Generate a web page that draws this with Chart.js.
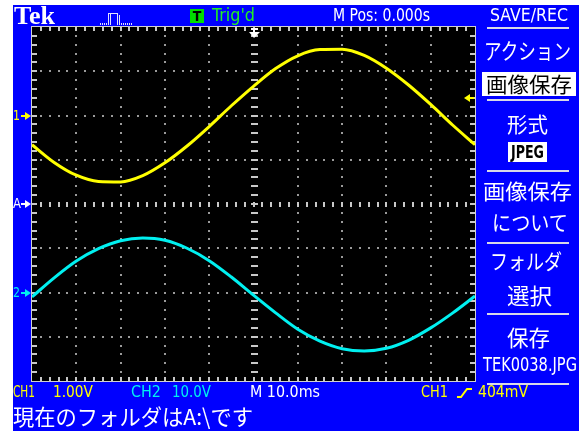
<!DOCTYPE html>
<html>
<head>
<meta charset="utf-8">
<script src="https://cdn.jsdelivr.net/npm/chart.js@4/dist/chart.umd.min.js"></script>
<style>
  html, body { margin: 0; padding: 0; background: #fff; }
  #wrap { position: relative; width: 579px; height: 431px; overflow: hidden; }
  #scope { position: absolute; left: 0; top: 0; }
  .t { position: absolute; white-space: nowrap; transform-origin: 0 0; }
</style>
</head>
<body>
<div id="wrap"><canvas id="scope" width="579" height="431"></canvas></div>
<script>
// Acquisition record: 10 divisions x 10.0 ms/div, trigger at 0 s
const timeMs = [-50, -45, -40, -35, -30, -25, -20, -15, -10, -5, 0, 5, 10, 15, 20, 25, 30, 35, 40, 45, 50];
// CH1 (1.00 V/div), volts
const ch1Volts = [-0.66, -1.06, -1.35, -1.49, -1.50, -1.36, -1.07, -0.69, -0.25, 0.22, 0.66, 1.06, 1.35, 1.49, 1.50, 1.36, 1.07, 0.69, 0.25, -0.22, -0.66];
// CH2 (10.0 V/div), volts
const ch2Volts = [-1.0, 3.3, 7.1, 9.9, 11.7, 12.3, 11.8, 10.0, 7.2, 3.5, -0.6, -4.6, -8.3, -11.0, -12.7, -13.2, -12.6, -10.8, -8.0, -4.6, -0.8];

// Vertical settings and positions (divisions from screen centre)
const ch1VoltsPerDiv = 1.0, ch1PosDiv = 2;
const ch2VoltsPerDiv = 10.0, ch2PosDiv = -2;
const triggerLevelV = 0.404;

const NARROW = "'Liberation Sans Narrow','DejaVu Sans Condensed','Liberation Sans',sans-serif";
const CJK = "'Noto Sans CJK JP','Noto Sans CJK SC',sans-serif";
const YELLOW = '#ffff00', CYAN = '#00f0f0', BLUE = '#0000ff';

const pts = (ys) => timeMs.map((t, i) => ({ x: t, y: ys[i] }));

function tri(ctx, a, b, c, color) {
  ctx.fillStyle = color;
  ctx.beginPath(); ctx.moveTo(a[0], a[1]); ctx.lineTo(b[0], b[1]); ctx.lineTo(c[0], c[1]); ctx.closePath(); ctx.fill();
}

const scopeFrame = {
  id: 'scopeFrame',
  beforeDraw(chart) {
    const { ctx, chartArea: a } = chart;
    ctx.save();
    ctx.fillStyle = '#fff'; ctx.fillRect(0, 0, chart.width, chart.height);
    ctx.fillStyle = BLUE; ctx.fillRect(13, 5, 566, 426);
    ctx.fillStyle = '#000'; ctx.fillRect(a.left, a.top, a.right - a.left, a.bottom - a.top);
    ctx.restore();
  },
  beforeDatasetsDraw(chart) {
    const { ctx, chartArea: a, scales } = chart;
    const xs = scales.x, ds = scales.div;
    const X = (d) => Math.round(xs.getPixelForValue(-50 + d * 10));
    const Y = (d) => Math.round(ds.getPixelForValue(4 - d));
    ctx.save();
    // dotted graticule lines
    ctx.fillStyle = '#9a9a9a';
    for (let i = 1; i < 10; i++) {
      if (i === 5) continue;
      for (let k = 1; k < 40; k++) ctx.fillRect(X(i) - 1, Y(k / 5) - 1, 2, 2);
    }
    for (let j = 1; j < 8; j++) {
      if (j === 4) continue;
      for (let k = 1; k < 50; k++) ctx.fillRect(X(k / 5) - 1, Y(j) - 1, 2, 2);
    }
    // centre axes with minor ticks
    ctx.fillStyle = '#c8c8c8';
    for (let k = 1; k < 50; k++) ctx.fillRect(X(k / 5) - 1, Y(4) - 2, 2, 5);
    for (let k = 1; k < 40; k++) ctx.fillRect(X(5) - 3, Y(k / 5) - 1, 7, 2);
    // edge ticks
    for (let k = 1; k < 50; k++) {
      ctx.fillRect(X(k / 5) - 1, a.top, 2, 4);
      ctx.fillRect(X(k / 5) - 1, a.bottom - 4, 2, 4);
    }
    for (let k = 1; k < 40; k++) {
      ctx.fillRect(a.left, Y(k / 5) - 1, 5, 2);
      ctx.fillRect(a.right - 5, Y(k / 5) - 1, 5, 2);
    }
    // border
    ctx.strokeStyle = '#d0d0d0'; ctx.lineWidth = 1;
    ctx.strokeRect(a.left - 0.5, a.top - 0.5, a.right - a.left + 1, a.bottom - a.top + 1);
    ctx.restore();
  },
  afterDatasetsDraw(chart) {
    const { ctx, chartArea: a, scales } = chart;
    ctx.save();
    // trigger position marker
    const tx = Math.round(scales.x.getPixelForValue(0));
    ctx.fillStyle = '#fff';
    ctx.fillRect(tx - 3, a.top + 1, 7, 2);
    ctx.fillRect(tx - 1, a.top + 1, 2, 5);
    tri(ctx, [tx - 5, a.top + 5], [tx + 6, a.top + 5], [tx, a.top + 11], '#fff');
    // trigger level marker
    const ty = Math.round(scales.y1.getPixelForValue(triggerLevelV));
    tri(ctx, [a.right - 11, ty], [a.right - 5, ty - 4], [a.right - 5, ty + 4], YELLOW);
    ctx.fillStyle = YELLOW; ctx.fillRect(a.right - 6, ty - 1, 5, 2);
    // channel ground markers
    const marks = [
      [scales.y1.getPixelForValue(0), YELLOW],
      [scales.div.getPixelForValue(0), '#fff'],
      [scales.y2.getPixelForValue(0), CYAN]
    ];
    for (const [my, c] of marks) {
      const y = Math.round(my);
      ctx.fillStyle = c; ctx.fillRect(21, y - 1, 5, 2);
      tri(ctx, [25, y - 4], [25, y + 4], [31, y], c);
    }
    // acquisition icon
    ctx.fillStyle = '#e0e0ff';
    for (let x = 100; x <= 107; x += 2) ctx.fillRect(x, 23, 1, 2);
    for (let x = 121; x <= 132; x += 2) ctx.fillRect(x, 23, 1, 2);
    ctx.fillRect(108, 13, 1, 12); ctx.fillRect(110, 13, 1, 12);
    ctx.fillRect(108, 13, 10, 1);
    ctx.fillRect(117, 13, 1, 12); ctx.fillRect(119, 15, 1, 10);
    // trigger state box
    ctx.fillStyle = '#00dd00'; ctx.fillRect(190, 9, 14, 14);
    // menu separators and boxes
    ctx.fillStyle = '#d8d8e8';
    ctx.fillRect(487, 27, 82, 2);
    for (const y of [99, 170, 242, 313, 383]) ctx.fillRect(487, y, 82, 2);
    ctx.fillStyle = '#fff';
    ctx.fillRect(482, 72, 94, 24);
    ctx.fillRect(508, 142, 39, 20);
    // trigger slope symbol
    ctx.strokeStyle = YELLOW; ctx.lineWidth = 2;
    ctx.beginPath(); ctx.moveTo(457, 397); ctx.lineTo(461, 397); ctx.lineTo(467, 389); ctx.lineTo(472, 389); ctx.stroke();
    ctx.restore();
  }
};

const chart = new Chart(document.getElementById('scope'), {
  type: 'line',
  data: {
    datasets: [
      { label: 'CH1', data: pts(ch1Volts), yAxisID: 'y1', borderColor: YELLOW, borderWidth: 3, pointRadius: 0, cubicInterpolationMode: 'monotone' },
      { label: 'CH2', data: pts(ch2Volts), yAxisID: 'y2', borderColor: CYAN, borderWidth: 3, pointRadius: 0, cubicInterpolationMode: 'monotone' }
    ]
  },
  options: {
    responsive: false,
    animation: false,
    events: [],
    layout: { padding: { left: 32, top: 27, right: 104, bottom: 50 } },
    plugins: { legend: { display: false }, tooltip: { enabled: false } },
    scales: {
      x: { type: 'linear', axis: 'x', min: timeMs[0], max: timeMs[timeMs.length - 1], display: false },
      y1: { type: 'linear', axis: 'y', min: (-4 - ch1PosDiv) * ch1VoltsPerDiv, max: (4 - ch1PosDiv) * ch1VoltsPerDiv, display: false },
      y2: { type: 'linear', axis: 'y', min: (-4 - ch2PosDiv) * ch2VoltsPerDiv, max: (4 - ch2PosDiv) * ch2VoltsPerDiv, display: false },
      div: { type: 'linear', axis: 'y', min: -4, max: 4, display: false }
    }
  },
  plugins: [scopeFrame]
});

// ---- text ----
const wrap = document.getElementById('wrap');
function put(txt, o) {
  const d = document.createElement('div');
  d.className = 't';
  d.textContent = txt;
  d.style.font = `${o.weight || 400} ${o.size}px ${o.family || NARROW}`;
  d.style.lineHeight = o.size + 'px';
  d.style.color = o.color || '#fff';
  wrap.appendChild(d);
  const w = d.getBoundingClientRect().width;
  const sx = o.width ? o.width / w : 1;
  const left = o.center !== undefined ? o.center - (w * sx) / 2 : o.x;
  d.style.left = left + 'px';
  d.style.top = o.top + 'px';
  d.style.transform = `scaleX(${sx})`;
}

// top bar
put('Tek', { x: 14, top: 2.5, size: 26, width: 41, family: "'Liberation Serif',serif", weight: 700 });
put('T', { center: 197, top: 8.5, size: 14, weight: 700, color: '#000' });
put("Trig'd", { x: 212, top: 5.7, size: 18, width: 43, color: '#22ee22' });
put('M Pos: 0.000s', { x: 333, top: 5.7, size: 18, width: 97 });
put('SAVE/REC', { x: 490, top: 5.7, size: 18, width: 78 });

// side menu
put('アクション', { center: 527, top: 38, size: 22, width: 87, family: CJK });
put('画像保存', { center: 529, top: 72.7, size: 21, width: 86, family: CJK, color: '#000' });
put('形式', { center: 527.5, top: 112.8, size: 21, width: 41, family: CJK });
put('JPEG', { center: 527.5, top: 143.5, size: 17, width: 33, weight: 700, color: '#000' });
put('画像保存', { center: 527, top: 179.8, size: 21, width: 89, family: CJK });
put('について', { center: 530, top: 211, size: 21, width: 76, family: CJK });
put('フォルダ', { center: 526, top: 250, size: 21, width: 72, family: CJK });
put('選択', { center: 529, top: 282.7, size: 22, width: 45, family: CJK });
put('保存', { center: 528.5, top: 324.7, size: 22, width: 43, family: CJK });
put('TEK0038.JPG', { x: 483, top: 354.4, size: 20, width: 94 });

// channel markers
const sc = chart.scales;
put('1', { x: 13, top: sc.y1.getPixelForValue(0) - 8, size: 14, width: 7, color: YELLOW });
put('A', { x: 13, top: sc.div.getPixelForValue(0) - 8, size: 14, width: 8 });
put('2', { x: 13, top: sc.y2.getPixelForValue(0) - 8, size: 14, width: 7, color: CYAN });

// status line
put('CH1', { x: 13, top: 385, size: 15.4, width: 22, color: YELLOW });
put('1.00V', { x: 53, top: 385, size: 15.4, width: 40, color: YELLOW });
put('CH2', { x: 131, top: 385, size: 15.4, width: 30, color: CYAN });
put('10.0V', { x: 172, top: 385, size: 15.4, width: 39, color: CYAN });
put('M 10.0ms', { x: 250, top: 385, size: 15.4, width: 70 });
put('CH1', { x: 421, top: 385, size: 15.4, width: 27, color: YELLOW });
put('404mV', { x: 478, top: 385, size: 15.4, width: 50, color: YELLOW });
put('現在のフォルダはA:\\です', { x: 13, top: 403.7, size: 22, width: 240, family: CJK });
</script>
</body>
</html>
